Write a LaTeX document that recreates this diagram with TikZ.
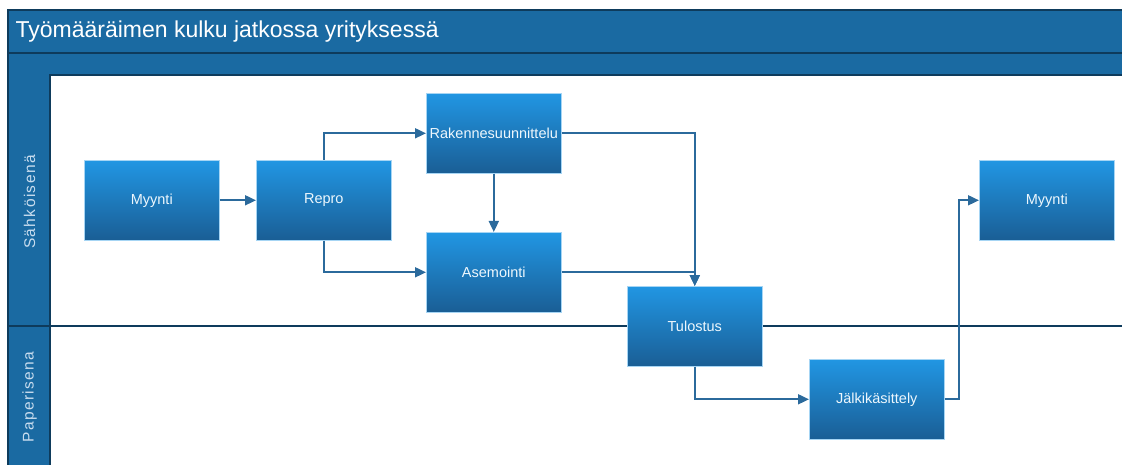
\documentclass[tikz,border=0pt]{standalone}
\usepackage{fontspec}
\setmainfont{Liberation Sans}
\usetikzlibrary{arrows.meta,calc}
\definecolor{band}{HTML}{1A6AA2}
\definecolor{bandedge}{HTML}{0E3B5C}
\definecolor{boxtop}{HTML}{2196E3}
\definecolor{boxbot}{HTML}{1A5E95}
\definecolor{conn}{HTML}{2B6A9C}
\definecolor{lanetext}{HTML}{C9DDEF}
\begin{document}
\begin{tikzpicture}[x=1pt,y=-1pt,
  proc/.style={draw=white!60!boxtop, line width=0.6pt, top color=boxtop, bottom color=boxbot,
    minimum width=135pt, minimum height=80pt, inner sep=0pt, text=white!92!boxtop,
    font=\fontsize{14.5}{16}\selectfont, anchor=north west},
  flow/.style={draw=conn, line width=1.8pt, -{Triangle[length=11pt,width=10pt]}},
  edge/.style={bandedge, line width=1.6pt},
  lanelbl/.style={text=lanetext, rotate=90, font=\fontsize{15.5}{17}\selectfont\addfontfeatures{LetterSpace=9}}]
\useasboundingbox (0,0) rectangle (1122,465);
% frame
\fill[band] (8,10) rectangle (1122,75);
\fill[band] (8,75) rectangle (50,465);
\draw[edge] (1122,10) -- (8,10) -- (8,465);
\draw[edge] (8,53) -- (1122,53);
\draw[edge] (50,465) -- (50,75) -- (1122,75);
\draw[edge, line width=2pt] (8,326) -- (1122,326);
\node[text=white, anchor=west, font=\fontsize{23}{26}\selectfont] (title) at (12,32) {Työmääräimen kulku jatkossa yrityksessä};
\node[lanelbl] (l1) at (29.5,202) {Sähköisenä};
\node[lanelbl] (l2) at (29.5,397) {Paperisena};
% process boxes
\node[proc] (m1) at (84,160) {Myynti};
\node[proc] (rep) at (256,160) {Repro};
\node[proc] (rak) at (426,93) {Rakennesuunnittelu};
\node[proc] (ase) at (426,232) {Asemointi};
\node[proc] (tul) at (627,286) {Tulostus};
\node[proc] (jal) at (809,359) {Jälkikäsittely};
\node[proc] (m2) at (979,160) {Myynti};
% connectors
\coordinate (jr) at ($(jal.east)+(14,0)$);
\draw[flow] (m1.east) -- (rep.west);
\draw[flow] (rep.north) |- (rak.west);
\draw[flow] (rep.south) |- (ase.west);
\draw[flow] (rak.south) -- (ase.north);
\draw[flow] (rak.east) -| (tul.north);
\draw[flow] (ase.east) -| (tul.north);
\draw[flow] (tul.south) |- (jal.west);
\draw[flow] (jal.east) -- (jr) |- (m2.west);
\end{tikzpicture}
\end{document}
